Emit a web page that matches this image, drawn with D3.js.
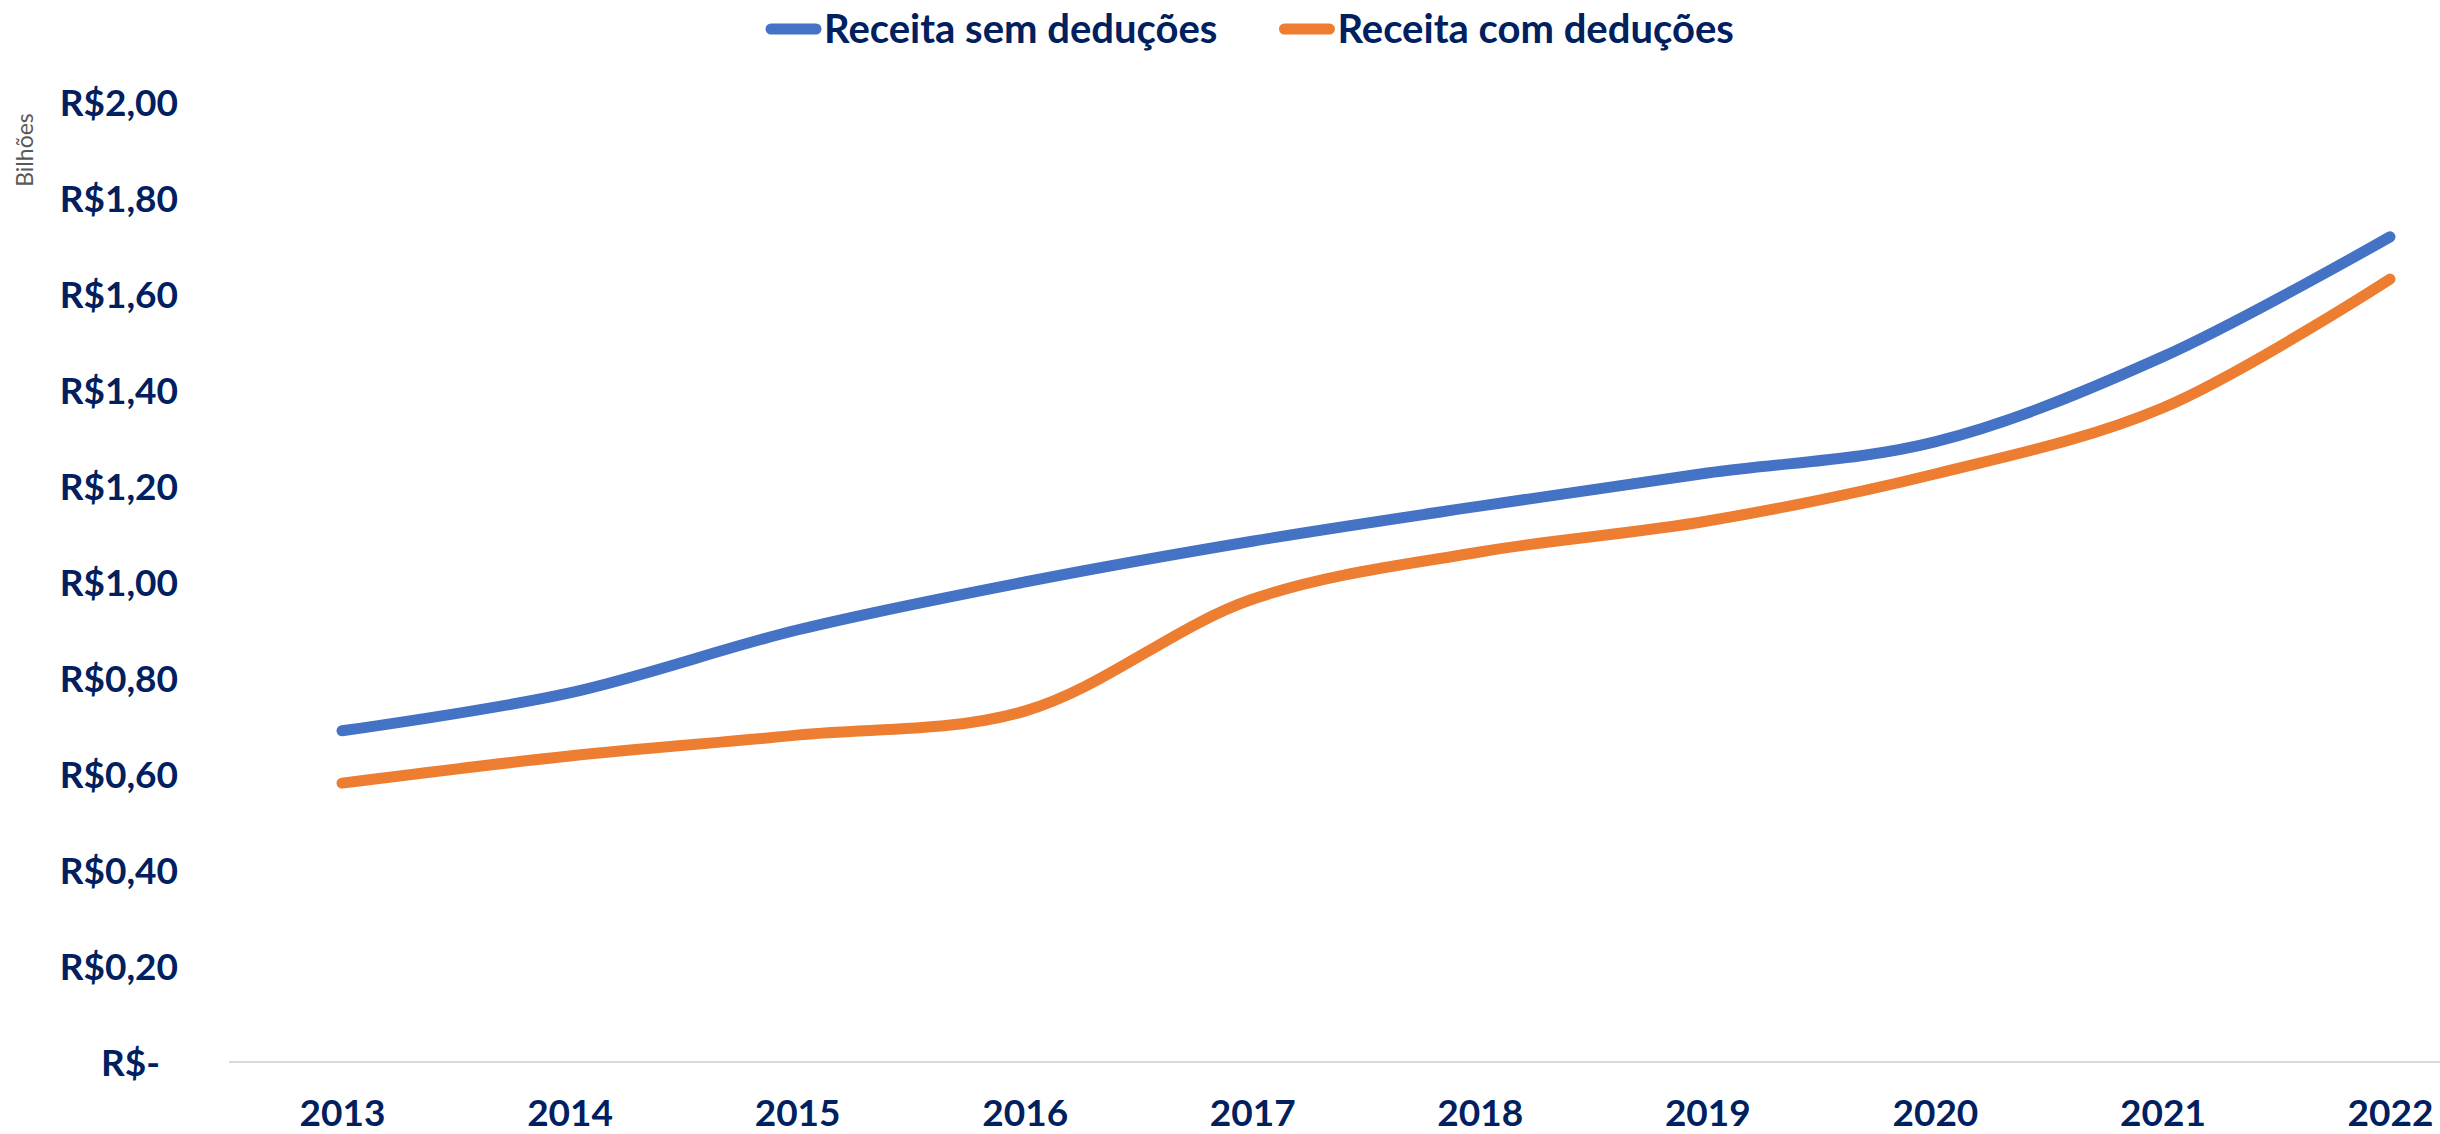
<!DOCTYPE html>
<html>
<head>
<meta charset="utf-8">
<script src="https://cdn.jsdelivr.net/npm/d3@7"></script>
<style>
  body { margin: 0; background: #fff; }
  text { font-family: Lato, "Open Sans", sans-serif; }
</style>
</head>
<body>
<div id="chart"></div>
<script>
const years = ["2013", "2014", "2015", "2016", "2017", "2018", "2019", "2020", "2021", "2022"];
const semDeducoes = [0.69, 0.769, 0.90, 1.0, 1.085, 1.158, 1.227, 1.292, 1.469, 1.719];
const comDeducoes = [0.581, 0.6375, 0.681, 0.731, 0.964, 1.0625, 1.127, 1.225, 1.3625, 1.631];
const yTicks = [0, 0.2, 0.4, 0.6, 0.8, 1.0, 1.2, 1.4, 1.6, 1.8, 2.0];
const seriesNames = ["Receita sem deduções", "Receita com deduções"];
const colors = ["#4472C4", "#ED7D31"];

const W = 2440, H = 1134;
const navy = "#002060";

const svg = d3.select("#chart")
    .append("svg")
    .attr("width", W)
    .attr("height", H);

const x = d3.scalePoint()
    .domain(years)
    .range([342, 2390]);

const y = d3.scaleLinear()
    .domain([0, 2])
    .range([1062, 102]);

// baseline
svg.append("line")
    .attr("x1", 229).attr("x2", W)
    .attr("y1", y(0)).attr("y2", y(0))
    .style("stroke", "#d9d9d9")
    .style("stroke-width", 2);

// y axis labels
const fmt = v => v === 0 ? "R$-" : "R$" + v.toFixed(2).replace(".", ",");
const yAxis = svg.append("g")
    .attr("transform", "translate(178,0)")
    .call(d3.axisLeft(y).tickValues(yTicks).tickFormat(fmt).tickSize(0).tickPadding(0));
yAxis.select(".domain").remove();
yAxis.selectAll("text")
    .attr("dy", "0.36em")
    .attr("dx", d => d === 0 ? -18 : 0)
    .style("font-family", "Lato, sans-serif")
    .style("font-weight", "bold")
    .style("font-size", "37px")
    .style("fill", navy);

// x axis labels
const xAxis = svg.append("g")
    .attr("transform", `translate(0,${y(0)})`)
    .call(d3.axisBottom(x).tickSize(0).tickPadding(0));
xAxis.select(".domain").remove();
xAxis.selectAll("text")
    .attr("y", 64)
    .attr("dy", 0)
    .style("font-family", "Lato, sans-serif")
    .style("font-weight", "bold")
    .style("font-size", "37px")
    .style("fill", navy);

// units label
svg.append("text")
    .attr("transform", "translate(33,150) rotate(-90)")
    .attr("text-anchor", "middle")
    .style("font-size", "23px")
    .style("fill", "#595959")
    .text("Bilhões");

// lines
const line = d3.line()
    .x((d, i) => x(years[i]))
    .y(d => y(d))
    .curve(d3.curveCatmullRom.alpha(0.5));

[semDeducoes, comDeducoes].forEach((s, k) => {
    svg.append("path")
        .datum(s)
        .attr("d", line)
        .style("fill", "none")
        .style("stroke", colors[k])
        .style("stroke-width", 11)
        .style("stroke-linecap", "round")
        .style("stroke-linejoin", "round");
});

// legend
const legend = svg.append("g").attr("transform", "translate(766,29)");
let lx = 0;
seriesNames.forEach((name, i) => {
    const g = legend.append("g").attr("transform", `translate(${lx},0)`);
    g.append("line")
        .attr("x1", 5).attr("x2", 50)
        .style("stroke", colors[i])
        .style("stroke-width", 11)
        .style("stroke-linecap", "round");
    const t = g.append("text")
        .attr("x", 58)
        .attr("dy", "0.36em")
        .style("font-weight", "bold")
        .style("font-size", "40px")
        .style("fill", navy)
        .text(name);
    lx += 58 + t.node().getComputedTextLength() + 62;
});
</script>
</body>
</html>
